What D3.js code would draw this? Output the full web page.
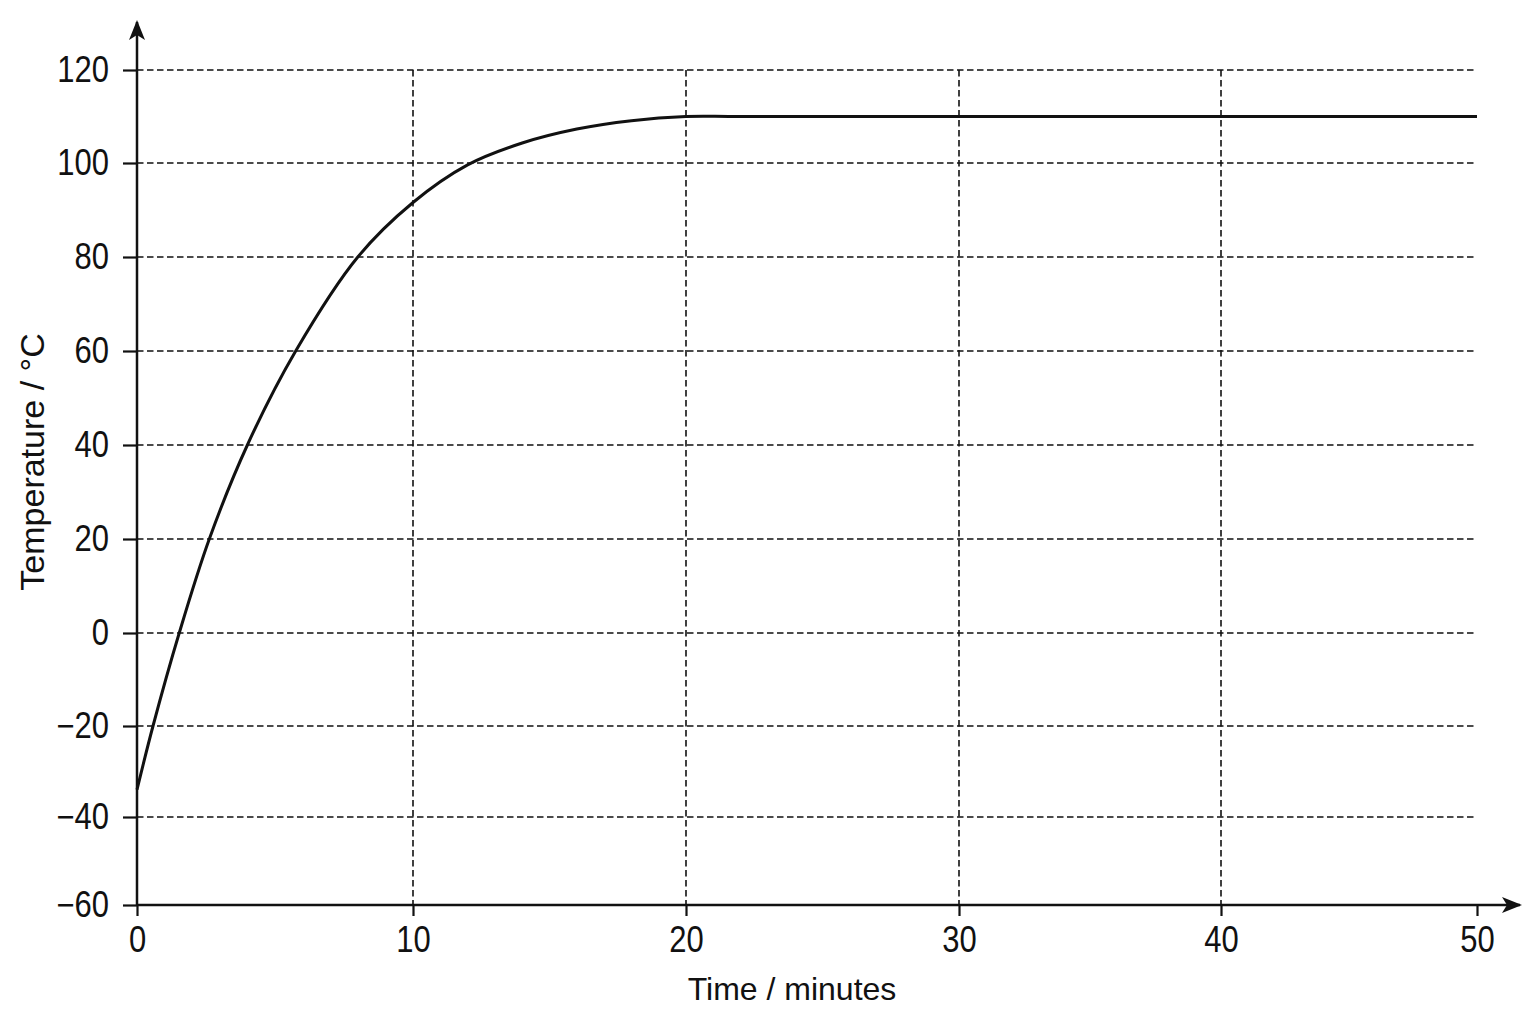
<!DOCTYPE html>
<html>
<head>
<meta charset="utf-8">
<script src="https://cdn.jsdelivr.net/npm/d3@7"></script>
<style>
  html, body { margin: 0; padding: 0; background: #fff; }
  text { font-family: "Liberation Sans", Arial, sans-serif; fill: #111; }
</style>
</head>
<body>
<svg width="1536" height="1024"></svg>
<script>
// values
var time = [0, 0.58, 1.53, 2.62, 4.0, 5.75, 8.0, 10, 12, 14, 16, 18, 20, 22, 50];
var temperature = [-34, -20, 0, 20, 40, 60, 80, 91.6, 99.6, 104.3, 107.3, 109.1, 110, 110, 110];

var xTicks = [0, 10, 20, 30, 40, 50];
var yTicks = [-60, -40, -20, 0, 20, 40, 60, 80, 100, 120];
var xGrid = [10, 20, 30, 40];

var xTitle = "Time / minutes";
var yTitle = "Temperature / °C";

function init() {
  var svg = d3.select("svg");

  // the printed axes are slightly uneven, so the scales are piecewise
  var x = d3.scaleLinear()
      .domain(xTicks)
      .range([137, 413, 686, 959, 1221, 1477]);
  var y = d3.scaleLinear()
      .domain(yTicks)
      .range([905, 817, 726, 633, 539, 445, 351, 257, 163, 70]);

  var data = time.map(function (t, i) { return { t: t, v: temperature[i] }; });

  // arrow head
  svg.append("defs").append("marker")
      .attr("id", "arrow")
      .attr("viewBox", "0 0 20 16")
      .attr("refX", 18)
      .attr("refY", 8)
      .attr("markerWidth", 20)
      .attr("markerHeight", 16)
      .attr("markerUnits", "userSpaceOnUse")
      .attr("orient", "auto")
    .append("path")
      .attr("d", "M0,0 L20,8 L0,16 L5,8 Z")
      .attr("fill", "#111");

  // grid
  var grid = svg.append("g")
      .attr("stroke", "#111")
      .attr("stroke-width", 1.6)
      .attr("stroke-dasharray", "6.5,3.5");
  grid.selectAll(".h")
      .data(yTicks.filter(function (d) { return d > -60; }))
    .enter().append("line")
      .attr("x1", x(0))
      .attr("x2", x(50))
      .attr("y1", function (d) { return y(d); })
      .attr("y2", function (d) { return y(d); });
  grid.selectAll(".v")
      .data(xGrid)
    .enter().append("line")
      .attr("x1", function (d) { return x(d); })
      .attr("x2", function (d) { return x(d); })
      .attr("y1", y(120))
      .attr("y2", y(-60));

  // axes
  var xAxis = svg.append("g")
      .attr("transform", "translate(0," + y(-60) + ")")
      .call(d3.axisBottom(x).tickValues(xTicks).tickSize(11).tickPadding(10));
  var yAxis = svg.append("g")
      .attr("transform", "translate(" + x(0) + ",0)")
      .call(d3.axisLeft(y).tickValues(yTicks).tickSize(14).tickPadding(14)
        .tickFormat(function (d) { return d < 0 ? "\u2212" + Math.abs(d) : d; }));

  [xAxis, yAxis].forEach(function (a) {
    a.select(".domain").remove();
    a.selectAll(".tick line").attr("stroke", "#111").attr("stroke-width", 2.2);
    a.selectAll(".tick text")
        .attr("font-size", 36)
        .attr("font-family", "Liberation Sans, Arial, sans-serif")
        .attr("fill", "#111")
        .each(function () {
          // tick digits are printed in a condensed face
          var w = this.getComputedTextLength();
          d3.select(this)
              .attr("textLength", w * 0.86)
              .attr("lengthAdjust", "spacingAndGlyphs");
        });
  });

  svg.append("line")
      .attr("x1", x(0)).attr("x2", 1520)
      .attr("y1", y(-60)).attr("y2", y(-60))
      .attr("stroke", "#111").attr("stroke-width", 2.5)
      .attr("marker-end", "url(#arrow)");
  svg.append("line")
      .attr("x1", x(0)).attr("x2", x(0))
      .attr("y1", y(-60) + 1).attr("y2", 22)
      .attr("stroke", "#111").attr("stroke-width", 2.5)
      .attr("marker-end", "url(#arrow)");

  // curve
  var line = d3.line()
      .x(function (d) { return x(d.t); })
      .y(function (d) { return y(d.v); })
      .curve(d3.curveCatmullRom.alpha(0.5));
  svg.append("path")
      .datum(data)
      .attr("d", line)
      .attr("fill", "none")
      .attr("stroke", "#111")
      .attr("stroke-width", 3);

  // titles
  svg.append("text")
      .attr("x", 792)
      .attr("y", 1000)
      .attr("text-anchor", "middle")
      .attr("font-size", 32)
      .text(xTitle);
  svg.append("text")
      .attr("transform", "translate(44,462) rotate(-90)")
      .attr("text-anchor", "middle")
      .attr("font-size", 34)
      .text(yTitle);
}

window.onload = init;
</script>
</body>
</html>
